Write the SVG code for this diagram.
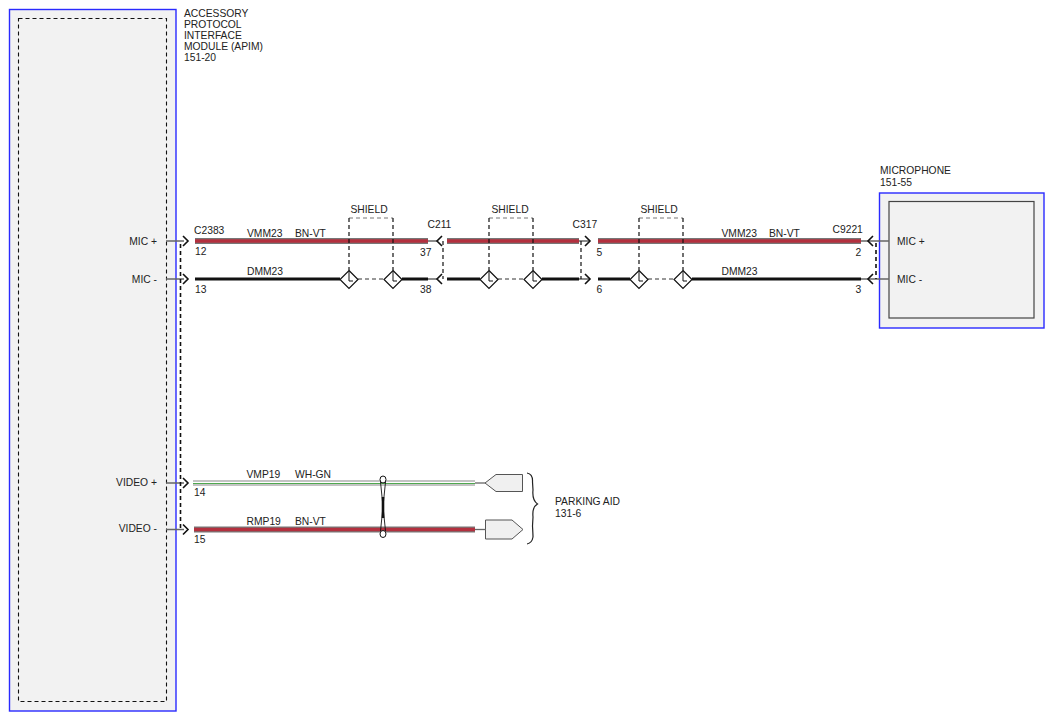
<svg xmlns="http://www.w3.org/2000/svg" xmlns:xlink="http://www.w3.org/1999/xlink" width="1054" height="721" viewBox="0 0 1054 721">
<style>
text{font-family:"Liberation Sans",Arial,sans-serif;font-size:10.3px;fill:#222}
.end{text-anchor:end}
.mid{text-anchor:middle}
.box{fill:#f2f2f2;stroke:#2a2aff;stroke-width:1.4}
.inner{fill:none;stroke:#111;stroke-width:1.1;stroke-dasharray:4 3}
.stub{stroke:#666;stroke-width:1.3;fill:none}
.redo{stroke:#777;stroke-width:6;fill:none}
.redi{stroke:#b3303e;stroke-width:3.6;fill:none}
.blk{stroke:#111;stroke-width:2.8;fill:none}
.chev{stroke:#111;stroke-width:1.6;fill:none}
.shell{stroke:#111;stroke-width:1.6;stroke-dasharray:4 3;fill:none}
.shv{stroke:#111;stroke-width:1.2;stroke-dasharray:4 3;fill:none}
.sht{stroke:#777;stroke-width:1;stroke-dasharray:4 3;fill:none}
.shb{stroke:#333;stroke-width:1;stroke-dasharray:4 3;fill:none}
.dia{fill:#fff;stroke:#111;stroke-width:1.2}
.pa{fill:#f0f0f0;stroke:#555;stroke-width:1}
</style>
<defs>
<path id="chR" d="M-5,-5 L0,0 L-5,5"/>
<path id="chL" d="M5,-5 L0,0 L5,5"/>
<g id="dmd"><path class="dia" d="M0,-9 L9,0 L0,9 L-9,0 Z"/><path d="M0,-9 V1.5 H4" stroke="#111" stroke-width="1" fill="none"/></g>
</defs>

<g id="apim">
<rect class="box" x="9.5" y="9.5" width="166.5" height="701.5"/>
<rect class="inner" x="18.5" y="18.5" width="148" height="683"/>
<text x="184" y="17">ACCESSORY</text>
<text x="184" y="28">PROTOCOL</text>
<text x="184" y="39">INTERFACE</text>
<text x="184" y="50">MODULE (APIM)</text>
<text x="184" y="61">151-20</text>
<text class="end" x="157" y="245">MIC +</text>
<text class="end" x="157" y="283">MIC -</text>
<text class="end" x="157" y="486">VIDEO +</text>
<text class="end" x="157" y="532">VIDEO -</text>
</g>

<g id="microphone">
<rect class="box" x="879.5" y="193" width="164.5" height="135" stroke-width="1.8"/>
<rect x="889" y="201.5" width="145" height="116.5" fill="#f2f2f2" stroke="#444" stroke-width="1.2"/>
<text x="880" y="174">MICROPHONE</text>
<text x="880" y="186">151-55</text>
<text x="897" y="245">MIC +</text>
<text x="897" y="283">MIC -</text>
</g>

<g id="parking-aid">
<path class="pa" d="M485,483 L496,474.5 L522.5,474.5 L522.5,491.5 L496,491.5 Z"/>
<path class="pa" d="M485.5,520 L512,520 L523,529.5 L512,539 L485.5,539 Z"/>
<path d="M527,473 Q533,474 532.5,482 L533,490 Q532,500 537.5,504 Q532,507 533,517 L532.5,526 Q533,535 533,537 Q532,543 527,544" stroke="#222" stroke-width="1.2" fill="none"/>
<text x="555" y="505">PARKING AID</text>
<text x="555" y="517">131-6</text>
</g>

<g id="connectors">
<!-- stubs at APIM -->
<path class="stub" d="M166,241 H184 M166,279 H184 M166,483 H184 M166,529.5 H184"/>
<!-- APIM shell dashed -->
<path class="shell" d="M180.5,244 V530"/>
<use href="#chR" x="188" y="241" class="chev"/>
<use href="#chR" x="188" y="279" class="chev"/>
<use href="#chR" x="188" y="483" class="chev"/>
<use href="#chR" x="188" y="529.5" class="chev"/>
<text x="194" y="234">C2383</text>
<text x="195" y="255">12</text>
<text x="195" y="293">13</text>
<text x="194" y="496">14</text>
<text x="194" y="543">15</text>

<!-- segment 1 -->
<path class="redo" d="M195,241 H428"/><path class="redi" d="M195,241 H428"/>
<path class="blk" d="M195,279 H340 M402,279 H428"/>
<text x="247" y="236.5">VMM23</text><text x="295" y="236.5">BN-VT</text>
<text x="247" y="274.5">DMM23</text>
<path class="sht" d="M349,218 H393"/>
<path class="shv" d="M349,218 V270 M393,218 V270"/>
<path class="shb" d="M358,279 H384"/>
<use href="#dmd" x="349" y="279.5"/>
<use href="#dmd" x="393" y="279.5"/>
<text class="mid" x="369" y="213">SHIELD</text>

<!-- C211 -->
<path class="stub" d="M428,241 H437 M428,279 H437"/>
<use href="#chL" x="437" y="241" class="chev"/>
<use href="#chL" x="437" y="279" class="chev"/>
<path class="shv" d="M443,241 V279"/>
<text x="427.5" y="228">C211</text>
<text x="420" y="256">37</text>
<text x="420" y="293">38</text>

<!-- segment 2 -->
<path class="redo" d="M447,241 H579"/><path class="redi" d="M447,241 H579"/>
<path class="blk" d="M447,279 H480 M542,279 H579"/>
<path class="sht" d="M489,218 H533"/>
<path class="shv" d="M489,218 V270 M533,218 V270"/>
<path class="shb" d="M498,279 H524"/>
<use href="#dmd" x="489" y="279.5"/>
<use href="#dmd" x="533" y="279.5"/>
<text class="mid" x="510" y="213">SHIELD</text>

<!-- C317 -->
<path class="stub" d="M579,241 H590 M579,279 H590"/>
<path class="shv" d="M581,241 V279"/>
<use href="#chR" x="590" y="241" class="chev"/>
<use href="#chR" x="590" y="279" class="chev"/>
<text x="572.5" y="228">C317</text>
<text x="596.5" y="256">5</text>
<text x="596.5" y="293">6</text>

<!-- segment 3 -->
<path class="redo" d="M598,241 H861"/><path class="redi" d="M598,241 H861"/>
<path class="blk" d="M598,279 H630 M692,279 H861"/>
<path class="sht" d="M639,218 H683"/>
<path class="shv" d="M639,218 V270 M683,218 V270"/>
<path class="shb" d="M648,279 H674"/>
<use href="#dmd" x="639" y="279.5"/>
<use href="#dmd" x="683" y="279.5"/>
<text class="mid" x="659" y="213">SHIELD</text>
<text x="721.5" y="236.5">VMM23</text><text x="769" y="236.5">BN-VT</text>
<text x="721.5" y="274.5">DMM23</text>

<!-- C9221 -->
<path class="stub" d="M861,241 H889 M861,279 H889"/>
<use href="#chL" x="868" y="241" class="chev"/>
<use href="#chL" x="868" y="279" class="chev"/>
<path class="shell" d="M876,243 V279"/>
<text x="832.5" y="233">C9221</text>
<text x="855.5" y="256">2</text>
<text x="855.5" y="293">3</text>

<!-- video wires -->
<path d="M193,483 H475" stroke="#888" stroke-width="5" fill="none"/>
<path d="M193,483 H475" stroke="#fff" stroke-width="3" fill="none"/>
<path d="M193,483.5 H475" stroke="#4fa84f" stroke-width="1" fill="none"/>
<path class="stub" d="M475,483 H486"/>
<text x="246.5" y="478">VMP19</text><text x="295" y="478">WH-GN</text>
<path class="redo" d="M194,529.5 H475"/><path class="redi" d="M194,529.5 H475"/>
<path class="stub" d="M475,529.5 H486"/>
<text x="246.5" y="524.5">RMP19</text><text x="295" y="524.5">BN-VT</text>
<!-- twist -->
<ellipse cx="383" cy="479.5" rx="3" ry="3.5" fill="#fff" stroke="#111" stroke-width="1"/>
<ellipse cx="383" cy="534" rx="3" ry="3.5" fill="#fff" stroke="#111" stroke-width="1"/>
<path d="M380.5,482 L385.5,531 M385.5,482 L380.5,531" stroke="#111" stroke-width="0.9" fill="none"/>
<path d="M383,497 V518" stroke="#111" stroke-width="2.6"/>
</g>
</svg>
